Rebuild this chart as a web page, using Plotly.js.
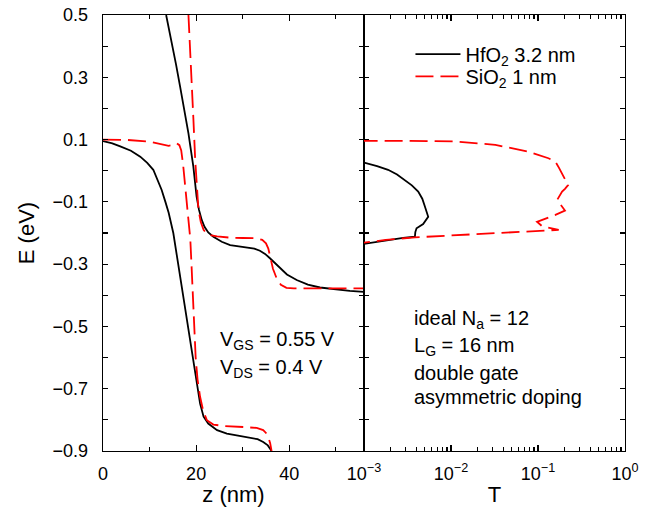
<!DOCTYPE html>
<html>
<head>
<meta charset="utf-8">
<script src="https://cdn.plot.ly/plotly-3.0.1.min.js"></script>
<style>html,body{margin:0;padding:0;background:#fff;}#chart{width:649px;height:507px;}</style>
</head>
<body>
<div id="chart"></div>
<script>
// ---- Left panel: E(z) profiles ----
var hfUpperZ = [13.56, 14.8, 15.7, 16.56, 17.5, 18.35, 19.4, 20.1, 20.6, 21.2, 21.8, 22.6, 23.7, 25.5, 27.3, 29.0, 30.9, 32.5, 33.7, 34.8, 35.85, 37.0, 38.0, 39.5, 41.6, 44.0, 46.6, 50.0, 53.0, 56.0];
var hfUpperE = [0.5, 0.41, 0.34, 0.27, 0.195, 0.12, 0.013, -0.083, -0.125, -0.158, -0.180, -0.198, -0.212, -0.228, -0.239, -0.243, -0.246, -0.250, -0.257, -0.267, -0.281, -0.298, -0.313, -0.333, -0.351, -0.366, -0.375, -0.382, -0.386, -0.389];
var hfLowerZ = [0, 2, 3.7, 6, 8.0, 9.5, 10.8, 11.8, 12.6, 13.4, 14.1, 15.1, 16.0, 17.0, 18.0, 19.0, 19.9, 20.4, 20.85, 21.6, 22.6, 24.5, 26.6, 29.0, 31.6, 33.2, 34.4, 35.4, 36.2];
var hfLowerE = [0.095, 0.088, 0.078, 0.064, 0.045, 0.025, 0.003, -0.03, -0.062, -0.10, -0.135, -0.200, -0.287, -0.382, -0.478, -0.574, -0.655, -0.71, -0.748, -0.79, -0.812, -0.833, -0.844, -0.851, -0.857, -0.862, -0.871, -0.882, -0.9];
var siUpperZ = [18.35, 18.7, 19.07, 19.4, 19.8, 20.1, 20.5, 21.0, 21.6, 22.3, 23.3, 24.5, 27.3, 30.0, 33.0, 34.2, 35.0, 35.5, 35.85, 36.5, 37.3, 38.2, 39.4, 41.0, 45.1, 50.0, 56.0];
var siUpperE = [0.5, 0.40, 0.303, 0.17, 0.035, -0.05, -0.126, -0.165, -0.19, -0.203, -0.208, -0.211, -0.215, -0.216, -0.217, -0.222, -0.233, -0.25, -0.276, -0.315, -0.346, -0.366, -0.376, -0.378, -0.378, -0.378, -0.378];
var siLowerZ = [0, 5, 10.1, 12.3, 14.1, 15.2, 15.85, 16.4, 16.8, 17.2, 17.6, 18.0, 18.4, 18.75, 19.0, 19.3, 19.6, 19.9, 20.3, 20.85, 21.5, 22.3, 23.7, 26.0, 30.1, 33.0, 34.4, 35.0, 35.5, 35.9, 36.2];
var siLowerE = [0.1, 0.099, 0.093, 0.085, 0.08, 0.083, 0.088, 0.082, 0.065, 0.02, -0.04, -0.10, -0.16, -0.22, -0.30, -0.40, -0.50, -0.60, -0.67, -0.726, -0.77, -0.801, -0.815, -0.82, -0.823, -0.826, -0.833, -0.842, -0.855, -0.875, -0.9];

// ---- Right panel: transmission T(E) ----
var hfT = [0.000891, 0.001, 0.001413, 0.001892, 0.002399, 0.002951, 0.003548, 0.004198, 0.004677, 0.005012, 0.005470, 0.004786, 0.004018, 0.003890, 0.003846, 0.002818, 0.001892, 0.001349, 0.001, 0.000891];
var hfTE = [0.032, 0.026, 0.015, 0.003, -0.012, -0.030, -0.047, -0.067, -0.090, -0.115, -0.148, -0.171, -0.185, -0.197, -0.212, -0.216, -0.2225, -0.229, -0.235, -0.237];
var siT = [0.000891, 0.001, 0.003162, 0.011117, 0.032359, 0.077983, 0.131826, 0.158489, 0.173780, 0.189234, 0.221820, 0.204174, 0.189234, 0.165959, 0.181970, 0.204174, 0.158489, 0.097499, 0.111173, 0.172982, 0.031623, 0.01, 0.003846, 0.001778, 0.001, 0.000891];
var siTE = [0.097, 0.096, 0.096, 0.094, 0.083, 0.061, 0.040, 0.029, 0.010, -0.008, -0.046, -0.058, -0.067, -0.094, -0.110, -0.128, -0.142, -0.164, -0.178, -0.190, -0.2007, -0.2078, -0.214, -0.222, -0.231, -0.233];

// ---- Tick labels ----
var yTickVals = [-0.9, -0.7, -0.5, -0.3, -0.1, 0.1, 0.3, 0.5];
var yTickText = ['\u22120.9', '\u22120.7', '\u22120.5', '\u22120.3', '\u22120.1', '0.1', '0.3', '0.5'];
var yMinorVals = [-0.8, -0.6, -0.4, -0.2, 0, 0.2, 0.4];
var zTickVals = [0, 20, 40];
var zTickText = ['0', '20', '40'];
var zMinorVals = [10, 30, 50];
var tTickVals = [0.001, 0.01, 0.1, 1];
var tTickText = ['10<sup>\u22123</sup>', '10<sup>\u22122</sup>', '10<sup>\u22121</sup>', '10<sup>0</sup>'];
var tMinorVals = [0.002,0.003,0.004,0.005,0.006,0.007,0.008,0.009,0.02,0.03,0.04,0.05,0.06,0.07,0.08,0.09,0.2,0.3,0.4,0.5,0.6,0.7,0.8,0.9];

var hfName = 'HfO<sub>2</sub> 3.2 nm';
var siName = 'SiO<sub>2</sub> 1 nm';

var blackLine = {color: '#000000', width: 1.8};
var redLine = {color: '#ff0000', width: 1.8, dash: '18px,7px'};

var traces = [
  {x: hfUpperZ, y: hfUpperE, xaxis: 'x', yaxis: 'y', mode: 'lines', line: blackLine, name: hfName, legendgroup: 'hf', legend: 'legend', showlegend: true},
  {x: siUpperZ, y: siUpperE, xaxis: 'x', yaxis: 'y', mode: 'lines', line: redLine, name: siName, legendgroup: 'si', legend: 'legend2', showlegend: true},
  {x: hfLowerZ, y: hfLowerE, xaxis: 'x', yaxis: 'y', mode: 'lines', line: blackLine, name: hfName, legendgroup: 'hf', showlegend: false},
  {x: siLowerZ, y: siLowerE, xaxis: 'x', yaxis: 'y', mode: 'lines', line: redLine, name: siName, legendgroup: 'si', showlegend: false},
  {x: hfT, y: hfTE, xaxis: 'x2', yaxis: 'y2', mode: 'lines', line: blackLine, name: hfName, legendgroup: 'hf', showlegend: false},
  {x: siT, y: siTE, xaxis: 'x2', yaxis: 'y2', mode: 'lines', line: redLine, name: siName, legendgroup: 'si', showlegend: false}
];

var fontFam = '"Liberation Sans", Arial, Helvetica, sans-serif';
var minorTicks = function (vals, len) {
  return {tickvals: vals, ticks: 'inside', ticklen: len, tickwidth: 1.2, tickcolor: '#000', showgrid: false};
};
var axCommon = {
  showline: true, linecolor: '#000', linewidth: 1.3, mirror: 'ticks',
  ticks: 'inside', ticklen: 6, tickwidth: 1.2, tickcolor: '#000',
  showgrid: false, zeroline: false, tickfont: {family: fontFam, size: 18, color: '#000'}
};
var legendCommon = {xanchor: 'left', yanchor: 'top', bgcolor: 'rgba(0,0,0,0)', borderwidth: 0,
                    font: {family: fontFam, size: 20, color: '#000'}, itemwidth: 45};

var layout = {
  width: 649, height: 507,
  margin: {l: 103, r: 24, t: 15, b: 56},
  paper_bgcolor: '#fff', plot_bgcolor: '#fff',
  font: {family: fontFam, color: '#000'},
  showlegend: true,
  legend: Object.assign({x: 0.589, y: 0.955}, legendCommon),
  legend2: Object.assign({x: 0.589, y: 0.904}, legendCommon),
  xaxis: Object.assign({}, axCommon, {
    domain: [0, 0.5], range: [0, 56.05], anchor: 'y',
    tickmode: 'array', tickvals: zTickVals, ticktext: zTickText, ticklabelstandoff: 6,
    minor: minorTicks(zMinorVals, 4),
    title: {text: 'z (nm)', font: {family: fontFam, size: 22, color: '#000'}, standoff: 6}
  }),
  xaxis2: Object.assign({}, axCommon, {
    domain: [0.5, 1], type: 'log', range: [-3, 0], anchor: 'y2',
    tickmode: 'array', tickvals: tTickVals, ticktext: tTickText, ticklabelstandoff: 6,
    minor: minorTicks(tMinorVals, 4),
    title: {text: 'T', font: {family: fontFam, size: 22, color: '#000'}, standoff: 6}
  }),
  yaxis: Object.assign({}, axCommon, {
    range: [-0.9, 0.5], anchor: 'x', domain: [0, 1],
    tickmode: 'array', tickvals: yTickVals, ticktext: yTickText, ticklabelstandoff: 10, ticklen: 5,
    minor: minorTicks(yMinorVals, 5),
    title: {text: 'E (eV)', font: {family: fontFam, size: 22, color: '#000'}, standoff: 12}
  }),
  yaxis2: Object.assign({}, axCommon, {
    range: [-0.9, 0.5], anchor: 'x2', matches: 'y', domain: [0, 1],
    tickmode: 'array', tickvals: yTickVals, showticklabels: false, ticklen: 5,
    minor: minorTicks(yMinorVals, 5)
  }),
  annotations: [
    {xref: 'x', yref: 'y', x: 24.7, y: -0.545, xanchor: 'left', yanchor: 'middle', showarrow: false,
     text: 'V<sub>GS</sub> = 0.55 V', font: {family: fontFam, size: 20, color: '#000'}},
    {xref: 'x', yref: 'y', x: 24.7, y: -0.636, xanchor: 'left', yanchor: 'middle', showarrow: false,
     text: 'V<sub>DS</sub> = 0.4 V', font: {family: fontFam, size: 20, color: '#000'}},
    {xref: 'x2', yref: 'y', x: -2.453, y: -0.478, xanchor: 'left', yanchor: 'middle', showarrow: false,
     text: 'ideal N<sub>a</sub> = 12', font: {family: fontFam, size: 20, color: '#000'}},
    {xref: 'x2', yref: 'y', x: -2.453, y: -0.563, xanchor: 'left', yanchor: 'middle', showarrow: false,
     text: 'L<sub>G</sub> = 16 nm', font: {family: fontFam, size: 20, color: '#000'}},
    {xref: 'x2', yref: 'y', x: -2.453, y: -0.648, xanchor: 'left', yanchor: 'middle', showarrow: false,
     text: 'double gate', font: {family: fontFam, size: 20, color: '#000'}},
    {xref: 'x2', yref: 'y', x: -2.453, y: -0.727, xanchor: 'left', yanchor: 'middle', showarrow: false,
     text: 'asymmetric doping', font: {family: fontFam, size: 20, color: '#000'}}
  ]
};

Plotly.newPlot('chart', traces, layout, {staticPlot: true, displayModeBar: false});
</script>
</body>
</html>
